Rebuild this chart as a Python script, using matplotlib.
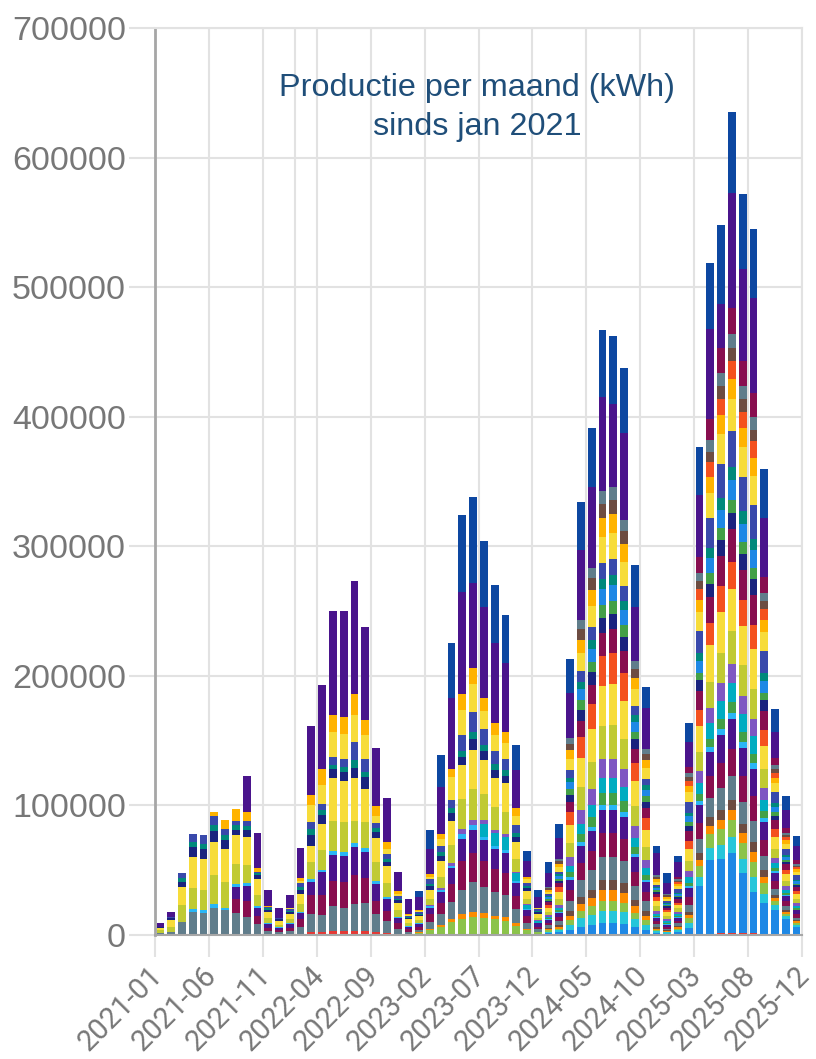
import numpy as np
import pandas as pd
import matplotlib
matplotlib.use('Agg')
import matplotlib.pyplot as plt
import matplotlib.transforms as mtransforms

# Months shown on the x axis (2021-01 .. 2025-12)
months = pd.date_range('2021-01-01', '2025-12-01', freq='MS')
x_tick_labels = ['2021-01', '2021-06', '2021-11', '2022-04', '2022-09', '2023-02', '2023-07',
                 '2023-12', '2024-05', '2024-10', '2025-03', '2025-08', '2025-12']
y_ticks = [0, 100000, 200000, 300000, 400000, 500000, 600000, 700000]

# Monthly production per installation, in MWh (x1000 = kWh), bottom of the stack first.
# One row per year: 2021, 2022, 2023, 2024, 2025
red = [0.5, 0.5, 1, 1, 1, 1, 1, 1, 1, 0.5, 0.5, 0.5,
       0.5, 1, 2, 2.5, 3, 3, 3, 3, 2, 1.5, 1, 0.5,
       0.5, 1, 1, 1, 1, 1, 1, 1, 1, 1, 0.5, 0.5,
       0.5, 0.5, 0.5, 1, 1, 1, 1, 1, 1, 0.5, 0.5, 0.5,
       0.5, 0.5, 1, 1, 1.5, 1.5, 1.5, 1.5, 1, 0.5, 0.5, 0.5]
blue_b = [0, 0, 0, 0, 0, 0, 0, 0, 0, 0, 0, 0,
          0, 0, 0, 0, 0, 0, 0, 0, 0, 0, 0, 0,
          0, 0, 0, 0, 0, 0, 0, 0, 0, 0, 0, 0,
          1, 1.5, 3.5, 5.5, 6.5, 8, 8, 7.5, 5, 3.5, 1, 0.5,
          2, 5, 37, 57, 57, 62, 46, 32, 24, 19, 12, 6]
cyan_b = [0, 0, 0, 0, 0, 0, 0, 0, 0, 0, 0, 0,
          0, 0, 0, 0, 0, 0, 0, 0, 0, 0, 0, 0,
          0, 0, 0, 0, 0, 0, 0, 0, 0, 0, 0, 0,
          1, 1.5, 4, 6.5, 8, 9.5, 9.5, 9, 6, 4, 1.5, 1,
          1, 3.5, 7, 9.5, 11, 12, 11.5, 11, 7, 3.5, 2, 1.5]
green = [0, 0, 0, 0, 0, 0, 0, 0, 0, 0, 0, 0,
         0, 0, 0, 0, 0, 0, 0, 0, 0, 0, 0, 0,
         1, 3, 5, 9, 11, 13, 12, 11, 10, 6, 3, 1.5,
         1, 1.5, 3.5, 5.5, 6.5, 8, 8, 7.5, 5, 3.5, 1, 0.5,
         1.5, 4, 8, 10.5, 12, 13, 12, 12, 8, 3.5, 2, 1.5]
orange = [0, 0, 0, 0, 0, 0, 0, 0, 0, 0, 0, 0,
          0, 0, 0, 0, 0, 0, 0, 0, 0, 0, 0, 0,
          0.5, 1, 2, 2.5, 4, 4, 4, 3, 3, 2, 1, 0.5,
          1, 1.5, 3.5, 5.5, 6.5, 8, 8, 7.5, 5, 3.5, 1, 0.5,
          1, 2.5, 5, 6.5, 7.5, 8, 7.5, 7.5, 5, 2, 1.5, 1]
brown = [0, 0, 0, 0, 0, 0, 0, 0, 0, 0, 0, 0,
         0, 0, 0, 0, 0, 0, 0, 0, 0, 0, 0, 0,
         0, 0, 0, 0, 0, 0, 0, 0, 0, 0, 0, 0,
         1, 1.5, 3.5, 5.5, 6.5, 8, 8, 7.5, 5, 3.5, 1, 0.5,
         1, 2.5, 5, 6.5, 7.5, 8, 7.5, 7.5, 5, 2, 1.5, 1]
slate = [1, 2, 9, 17, 16, 20, 18, 16, 13, 8, 2.5, 1.5,
         2.5, 5, 14, 13, 19, 18, 21, 22, 14, 9, 4, 2,
         2, 5, 8, 13, 19, 23, 20, 18, 17, 11, 5, 2,
         2, 3, 8, 13, 15, 18, 18, 17, 11, 7.5, 2.5, 1.5,
         2, 5.5, 11, 14.5, 17, 18, 17, 16.5, 11, 5, 3, 2]
maroon = [0, 0, 0, 0, 0, 0, 0, 11, 12, 6, 2.5, 1.5,
          2.5, 6, 15, 15, 20, 20, 22, 19, 10, 8, 4, 2,
          2, 6, 9, 14, 22, 22, 20, 18, 17, 10, 5, 2,
          2, 3, 8, 13, 15, 18, 18, 17, 11, 7.5, 2.5, 1.5,
          2, 6, 12.5, 17, 19.5, 21, 20, 19, 12.5, 6, 3.5, 2.5]
purple_low = [0, 0, 0, 0, 0, 0, 0, 9, 12, 6, 3, 2,
              3, 5, 10, 18, 20, 20, 22, 20, 13, 9, 4, 2,
              2.5, 5, 8, 12, 17, 18, 16, 15, 15, 10, 5, 2.5,
              2, 3, 8, 13, 15, 18, 18, 17, 11, 7.5, 2.5, 1.5,
              2.5, 7, 14, 18.5, 21.5, 23, 21.5, 21, 14, 6.5, 4, 3]
light_blue = [0, 0, 0, 2, 2, 3, 2, 2, 2, 1.5, 0.5, 0.5,
              0.5, 1, 2, 1.3, 3, 3, 3, 3, 2.5, 2, 1, 0.5,
              0.5, 1, 1.5, 2, 4, 4, 3, 2.5, 2.5, 1.5, 0.5, 0.5,
              0.5, 0.5, 2, 3, 3.5, 4, 4, 4, 2.5, 1.5, 0.5, 0.5,
              0.5, 1.5, 3, 4, 4.5, 5, 4.5, 4.5, 3, 1.5, 1, 0.5]
green2 = [0, 0, 0, 0, 0, 0, 0, 0, 0, 0, 0, 0,
          0, 0, 0, 0, 0, 0, 0, 0, 0, 0, 0, 0,
          0, 0, 0, 0, 0, 0, 0, 0, 0, 0, 0, 0,
          1, 1.5, 4, 6.5, 7.5, 9, 9, 8.5, 5.5, 4, 1, 1,
          1, 2.5, 5, 6.5, 7.5, 8, 7.5, 7.5, 5, 2, 1.5, 1]
cyan2 = [0, 0, 0, 0, 0, 0, 0, 0, 0, 0, 0, 0,
         0, 0, 0, 0, 0, 0, 0, 0, 0, 0, 0, 0,
         0, 0, 0, 0, 0, 0, 10, 10, 10, 6, 3, 1.5,
         1, 2, 5, 8, 9.5, 11.5, 11.5, 11, 7, 5, 1.5, 1,
         1.5, 4.5, 9, 12, 14, 15, 14, 13.5, 9, 4, 2.5, 2]
violet = [0, 0, 0, 0, 0, 0, 0, 0, 0, 0, 0, 0,
          0, 0, 0, 0, 0, 0, 0, 0, 0, 0, 0, 0,
          0.5, 1, 1.5, 2, 4, 4, 3, 2.5, 2.5, 1.5, 1, 0.5,
          1.5, 2.5, 6.5, 10.5, 12.5, 15, 15, 14, 9, 6, 2, 1.5,
          1.5, 4.5, 9, 12, 14, 15, 14, 13.5, 9, 4, 2.5, 2]
yellow_green = [2, 4, 13, 16, 16, 22, 20, 16, 14, 9, 4, 2,
                3, 6, 13, 16, 23, 23, 17, 20, 15, 11, 5, 2,
                2, 5, 9, 14, 23, 24, 20, 18, 17, 10, 4, 2,
                2.5, 4, 11, 18, 20.5, 25, 26, 23, 15.5, 10.5, 3.5, 2.5,
                2.5, 7.5, 15, 20, 23.5, 25, 23.5, 23, 15, 7, 4, 3]
yellow = [2, 5, 14, 24, 24, 26, 25, 22, 22, 12, 5, 3,
          4, 8, 13, 20, 33, 32, 33, 26, 18, 13, 6, 3,
          3, 7, 12, 18.5, 26, 30, 26, 22, 22, 13, 6, 3,
          3, 5.5, 14, 22, 25.5, 31, 32, 29, 19, 13, 4, 3,
          2.5, 9.5, 19.5, 28, 31.5, 32.5, 30.5, 30.5, 17, 9, 5.5, 4]
orange2 = [0, 0, 0, 0, 0, 0, 0, 0, 0, 0, 0, 0,
           0, 0, 0, 0, 0, 0, 0, 0, 0, 0, 0, 0,
           0, 0, 0, 0, 0, 0, 0, 0, 0, 0, 0, 0,
           2.5, 4, 10, 16, 19, 23, 24, 21.5, 14, 9.5, 3, 2,
           2, 6, 12.5, 17, 19.5, 21, 20, 19, 12.5, 6, 3.5, 2.5]
maroon2 = [0, 0, 0, 0, 0, 0, 0, 0, 0, 0, 0, 0,
           0, 0, 0, 0, 0, 0, 0, 0, 0, 0, 0, 0,
           0, 0, 0, 0, 0, 0, 0, 0, 0, 0, 0, 0,
           2, 3, 8, 13, 15, 18, 18, 17, 11, 7.5, 2.5, 1.5,
           2.5, 7.5, 15, 20, 23.5, 25, 23.5, 23, 15, 7, 4, 3]
navy = [0.5, 1.5, 4, 8, 7, 8, 7, 4, 5, 3, 1.5, 1,
        1.5, 3, 8, 7, 7, 7, 8, 9, 5, 3, 2, 1,
        1, 2.5, 4, 6, 6, 8, 7, 6, 6, 4, 2, 1,
        1, 2, 5, 8.5, 10, 12, 12, 11, 7.5, 5, 1.5, 1,
        1.5, 4, 8, 10.5, 12, 13, 12, 12, 8, 3.5, 2, 1.5]
green3 = [0, 0, 0, 0, 0, 0, 0, 0, 0, 0, 0, 0,
          0, 0, 0, 0, 0, 0, 0, 0, 0, 0, 0, 0,
          0, 0, 0, 0, 0, 0, 0, 0, 0, 0, 0, 0,
          1, 1.5, 4.5, 7, 8, 10, 10, 9.5, 6, 4, 1.5, 1,
          1, 3, 6, 8, 9.5, 10, 9.5, 9, 6, 3, 1.5, 1]
blue3 = [0, 0, 0, 0, 0, 0, 0, 0, 0, 0, 0, 0,
         0, 0, 0, 0, 0, 0, 0, 0, 0, 0, 0, 0,
         0, 0, 0, 0, 0, 0, 0, 0, 0, 0, 0, 0,
         1.5, 2, 5.5, 8.5, 10, 12, 12, 11, 7.5, 5, 1.5, 1,
         1.5, 4.5, 9, 12, 14, 15, 14, 13.5, 9, 4, 2.5, 2]
teal = [0, 0.5, 3, 4, 4, 5, 4, 4, 3, 2, 1, 0.5,
        1, 2, 5, 4, 3, 4, 6, 4, 3, 2, 1, 1,
        1, 2, 3, 4, 5, 6, 5, 5, 4, 3, 1.5, 1,
        1, 1.5, 3.5, 5.5, 6.5, 8, 8, 7.5, 5, 3.5, 1, 1,
        1, 3, 6, 8, 9.5, 10, 9.5, 9, 6, 3, 1.5, 1]
indigo = [0.5, 0.5, 4, 6, 7, 7, 5, 3, 4, 1, 1, 0.5,
          1.5, 3, 5, 4, 6, 6, 14, 10, 4, 4, 2, 1,
          1.5, 3.5, 5, 6, 12, 15, 12, 10, 9, 6, 3, 1.5,
          1.5, 2, 5.5, 8.5, 10, 12, 12, 11, 7.5, 5, 1.5, 1,
          3, 8.5, 17, 22.5, 26, 28, 26.5, 25.5, 17, 8, 4.5, 3.5]
yellow2 = [0, 0, 0, 0, 0, 0, 0, 0, 0, 0, 0, 0,
           0.5, 2, 13, 15, 20, 19, 21, 18, 5, 4, 2, 0.5,
           0.5, 2, 5, 18, 20, 22, 14, 12, 12, 7, 3, 0.5,
           2, 3.5, 9, 14, 16.5, 20, 20, 18.5, 12.5, 8.5, 2.5, 2,
           2.5, 7.5, 15, 20, 23.5, 25, 23.5, 23, 15, 7, 4, 3]
amber = [0, 0, 0, 0, 0, 3, 7, 9, 7, 3, 0.5, 0,
         0.5, 2, 8, 12, 13, 13, 16, 12, 8, 5.5, 2, 0.5,
         0.5, 2, 4, 6, 12, 12, 10, 10, 9, 6, 1.5, 0.5,
         1.5, 2.5, 6.5, 10.5, 12.5, 15, 15, 14, 9, 6, 2, 1.5,
         1.5, 4.5, 9, 12, 14, 15, 14, 13.5, 9, 4, 2.5, 2]
orange3 = [0, 0, 0, 0, 0, 0, 0, 0, 0, 0, 0, 0,
           0, 0, 0, 0, 0, 0, 0, 0, 0, 0, 0, 0,
           0, 0, 0, 0, 0, 0, 0, 0, 0, 0, 0, 0,
           0, 0, 0, 0, 0, 0, 0, 0, 0, 0, 0, 0,
           1.5, 4, 8.5, 11.5, 13, 14, 13, 13, 8.5, 4, 2.5, 1.5]
brown2 = [0, 0, 0, 0, 0, 0, 0, 0, 0, 0, 0, 0,
          0, 0, 0, 0, 0, 0, 0, 0, 0, 0, 0, 0,
          0, 0, 0, 0, 0, 0, 0, 0, 0, 0, 0, 0,
          1, 2, 5, 8, 9, 11, 11, 10, 7, 4.5, 1.5, 1,
          1, 3, 6, 8, 9.5, 10, 9.5, 9, 6, 3, 1.5, 1]
slate2 = [0, 0, 0, 0, 0, 0, 0, 0, 0, 0, 0, 0,
          0, 0, 0, 0, 0, 0, 0, 0, 0, 0, 0, 0,
          0, 0, 0, 0, 0, 0, 0, 0, 0, 0, 0, 0,
          1, 1.5, 4.5, 7, 8, 10, 10, 9, 6, 4, 1.5, 1,
          1, 3, 6.5, 9, 10.5, 11, 10.5, 10, 6.5, 3, 2, 1.5]
maroon3 = [0, 0, 0, 0, 0, 0, 0, 0, 0, 0, 0, 0,
           0, 0, 0, 0, 0, 0, 0, 0, 0, 0, 0, 0,
           0, 0, 0, 0, 0, 0, 0, 0, 0, 0, 0, 0,
           0, 0, 0, 0, 0, 0, 0, 0, 0, 0, 0, 0,
           2, 5, 12, 16, 19, 20, 19, 18, 12, 5.5, 3.5, 2.5]
purple_top = [2.5, 4, 0, 0, 0, 0, 0, 0, 28, 27, 13, 8,
              10, 23, 53, 65, 80, 82, 87, 72, 45, 34, 15, 12,
              10, 19, 36, 55, 79, 66, 70, 61, 53, 29, 12, 8,
              11, 16, 35, 54, 62, 72, 64, 67, 42, 32, 17, 9,
              11, 19, 48, 70, 34, 89, 71, 74, 46, 20, 14, 11]
blue_top = [0, 0, 0, 0, 0, 0, 0, 0, 0, 0, 0, 0,
            0, 0, 0, 0, 0, 0, 0, 0, 0, 0, 0, 0,
            5, 15, 25, 42, 59, 66, 51, 45, 37, 20, 8, 6,
            8, 11, 26, 37, 46, 52, 52, 50, 32, 16, 6, 7,
            5, 15, 37, 51, 61, 62, 58, 53, 38, 18, 11, 8]

stack = [
    (red, '#e53935'), (blue_b, '#1e88e5'), (cyan_b, '#26c6da'), (green, '#8bc34a'),
    (orange, '#fb8c00'), (brown, '#6d4c41'), (slate, '#607d8b'), (maroon, '#880e4f'),
    (purple_low, '#4a148c'), (light_blue, '#29b6f6'), (green2, '#43a047'), (cyan2, '#00acc1'),
    (violet, '#7e57c2'), (yellow_green, '#c0ca33'), (yellow, '#f7dc3a'), (orange2, '#f4511e'),
    (maroon2, '#880e4f'), (navy, '#1a237e'), (green3, '#43a047'), (blue3, '#1e88e5'),
    (teal, '#00897b'), (indigo, '#3949ab'), (yellow2, '#f7dc3a'), (amber, '#ffb300'),
    (orange3, '#f4511e'), (brown2, '#6d4c41'), (slate2, '#607d8b'), (maroon3, '#880e4f'),
    (purple_top, '#4a148c'), (blue_top, '#0d47a1'),
]

grid_color = '#e2e2e2'
label_color = '#777777'

fig = plt.figure(figsize=(8.16, 10.59), dpi=100)
ax = fig.add_axes([155 / 816, 1 - 935 / 1059, (802 - 155) / 816, (935 - 28) / 1059])

# Stacked bars, one per month, centred in the month slot
x = np.arange(len(months)) + 0.5
bottom = np.zeros(len(months))
for values, color in stack:
    kwh = np.array(values) * 1000
    ax.bar(x, kwh, width=0.72, bottom=bottom, color=color, linewidth=0, zorder=2)
    bottom += kwh

ax.set_xlim(0, len(months))
ax.set_ylim(0, 700000)

# Axes, ticks and grid
ax.set_yticks(y_ticks)
ax.set_yticklabels([str(v) for v in y_ticks], fontfamily='Liberation Sans')
tick_pos = list(range(0, 56, 5)) + [len(months)]
ax.set_xticks(tick_pos)
ax.set_xticklabels(x_tick_labels, fontfamily='Roboto')
ax.grid(True, color=grid_color, linewidth=1.5, zorder=0)
ax.axvline(13, color=grid_color, linewidth=1.5, zorder=0)
ax.set_axisbelow(True)

ax.tick_params(axis='y', length=19, width=1.5, color=grid_color, pad=2,
               labelsize=24.5, labelcolor=label_color)
ax.tick_params(axis='x', length=16, width=1.5, color=grid_color, pad=10,
               labelsize=21, labelcolor=label_color)
shift = mtransforms.ScaledTranslation(0.03, 0, fig.dpi_scale_trans)
for lbl in ax.get_xticklabels():
    lbl.set_rotation(45)
    lbl.set_ha('right')
    lbl.set_va('center')
    lbl.set_rotation_mode('anchor')
    lbl.set_transform(lbl.get_transform() + shift)

ax.spines['left'].set_color('#a6a6a6')
ax.spines['left'].set_linewidth(2)
ax.spines['bottom'].set_color('#a6a6a6')
ax.spines['bottom'].set_linewidth(1.5)
ax.spines['top'].set_color(grid_color)
ax.spines['right'].set_color(grid_color)
ax.spines['top'].set_linewidth(1.5)
ax.spines['right'].set_linewidth(1.5)

# Title inside the plot area
title_color = '#1f4e79'
fig.text(477 / 816, 1 - 88 / 1059, 'Productie per maand (kWh)', ha='center', va='center',
         fontsize=23.3, color=title_color, fontfamily='Liberation Sans')
fig.text(477 / 816, 1 - 127 / 1059, 'sinds jan 2021', ha='center', va='center',
         fontsize=23.3, color=title_color, fontfamily='Liberation Sans')

fig.savefig('out.png', dpi=100)
